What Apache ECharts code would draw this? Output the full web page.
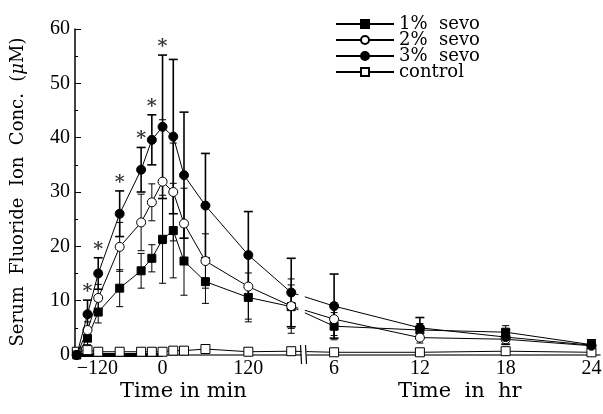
<!DOCTYPE html>
<html>
<head>
<meta charset="utf-8">
<script src="https://cdn.jsdelivr.net/npm/echarts@6/dist/echarts.min.js"></script>
<style>
html, body { margin: 0; padding: 0; background: #fff; }
#chart { width: 603px; height: 414px; }
</style>
</head>
<body>
<div id="chart"></div>
<script>
// sampling times: minutes around anesthesia, then hours afterwards
const minutes = [-120, -105, -90, -60, -30, -15, 0, 15, 30, 60, 120, 180]
const hours = [6, 12, 18, 24]

// mean and SD, serum fluoride (uM)
const sevo1 = [0, 3.1, 7.9, 12.3, 15.5, 17.8, 21.3, 22.9, 17.3, 13.5, 10.6, 8.9, 5.3, 4.6, 4.2, 1.9]
const sevo1Sd = [0, 1.2, 2.0, 3.4, 3.2, 2.5, 8.1, 8.7, 6.3, 4.0, 4.5, 4.0, 2.5, 1.2, 1.2, 0.6]
const sevo2 = [0, 4.6, 10.5, 19.9, 24.4, 28.1, 31.9, 30.0, 24.2, 17.3, 12.6, 9.0, 6.6, 3.2, 2.9, 1.7]
const sevo2Sd = [0, 1.5, 2.5, 4.5, 5.2, 3.4, 11.4, 9.0, 6.5, 5.0, 6.0, 5.0, 3.0, 1.0, 1.0, 0.5]
const sevo3 = [0, 7.5, 15.0, 26.0, 34.1, 39.6, 42.0, 40.2, 33.1, 27.5, 18.4, 11.5, 9.0, 5.0, 3.3, 1.8]
const sevo3Sd = [0, 2.6, 2.9, 4.2, 4.1, 4.6, 13.2, 14.2, 11.6, 9.6, 8.0, 6.3, 5.9, 1.9, 1.3, 1.0]
const control = [0.6, 0.9, 0.6, 0.6, 0.6, 0.6, 0.6, 0.8, 0.8, 1.1, 0.6, 0.7, 0.5, 0.5, 0.7, 0.5]

// significant points (marked with *) on 3% sevo
const starTimes = [-105, -90, -60, -30, -15, 0]
// anesthesia period
const anesthesia = [-120, 0]

// axis ticks (broken axis: 3 hr == 180 min, hour part drawn at 1/3 scale)
const tickValues = [-120, 0, 120, 240, 360, 480, 600]
const tickLabels = ['\u2212120', '0', '120', '6', '12', '18', '24']

const hourToAxis = h => 120 + h * 20
const axisTimes = minutes.concat(hours.map(hourToAxis))

const serif = 'Liberation Serif'
const wide = 'DejaVu Serif'

function lineData(values) {
  return axisTimes.map((t, i) => [t, values[i]])
}

function errorSeries(name, mean, sd, width, capW) {
  return {
    name: name,
    type: 'custom',
    z: 1,
    encode: { x: 0, y: 1 },
    data: axisTimes.map((t, i) => [t, mean[i], sd[i]]).filter(d => d[2] > 0),
    renderItem(params, api) {
      const x = api.value(0)
      const m = api.value(1)
      const s = api.value(2)
      const top = api.coord([x, m + s])
      const bot = api.coord([x, m - s])
      const style = { stroke: '#000', lineWidth: width }
      return {
        type: 'group',
        children: [
          { type: 'line', shape: { x1: top[0], y1: top[1], x2: bot[0], y2: bot[1] }, style },
          { type: 'line', shape: { x1: top[0] - capW, y1: top[1], x2: top[0] + capW, y2: top[1] }, style },
          { type: 'line', shape: { x1: bot[0] - capW, y1: bot[1], x2: bot[0] + capW, y2: bot[1] }, style }
        ]
      }
    }
  }
}

const openStyle = { color: '#fff', borderColor: '#000', borderWidth: 1 }
const fillStyle = { color: '#000', borderColor: '#000', borderWidth: 1 }

const chart = echarts.init(document.getElementById('chart'))
chart.setOption({
  animation: false,
  textStyle: { fontFamily: serif },
  grid: { left: 75, right: 3, top: 29, bottom: 59, outerBoundsMode: 'none' },
  legend: {
    data: ['1% sevo', '2% sevo', '3% sevo', 'control'],
    formatter: name => name.replace(' ', '  '),
    orient: 'vertical',
    left: 330,
    top: 10,
    itemWidth: 58,
    itemHeight: 10,
    itemGap: -2,
    textStyle: { fontFamily: wide, fontSize: 18, lineHeight: 16, color: '#000' }
  },
  xAxis: {
    type: 'value',
    min: -122.5,
    max: 612,
    splitLine: { show: false },
    axisTick: { show: false },
    axisLine: { onZero: false, lineStyle: { color: '#444', width: 1.5 } },
    axisLabel: {
      customValues: tickValues,
      alignMinLabel: 'left',
      formatter: v => tickLabels[tickValues.indexOf(v)],
      fontFamily: serif,
      fontSize: 20,
      color: '#000',
      margin: 4
    }
  },
  yAxis: {
    type: 'value',
    min: 0,
    max: 60,
    interval: 10,
    splitLine: { show: false },
    axisLine: { show: true, onZero: false, lineStyle: { color: '#000', width: 1.5 } },
    axisTick: { inside: true, length: 6, lineStyle: { color: '#000' } },
    minorTick: { show: true, splitNumber: 2, length: 3, lineStyle: { color: '#000' } },
    axisLabel: { fontFamily: serif, fontSize: 20, color: '#000', margin: 5 },
    name: '{a|Serum  Fluoride  Ion  Conc.  (}{i|\u03bc}{a|M)}',
    nameLocation: 'middle',
    nameGap: 48,
    nameTextStyle: {
      rich: {
        a: { fontFamily: wide, fontSize: 18, color: '#000' },
        i: { fontFamily: wide, fontSize: 18, fontStyle: 'italic', color: '#000' }
      }
    }
  },
  series: [
    errorSeries('sd1', sevo1, sevo1Sd, 1, 3.5),
    errorSeries('sd2', sevo2, sevo2Sd, 1, 3.5),
    errorSeries('sd3', sevo3, sevo3Sd, 1.6, 4.5),
    {
      name: 'anesthesia',
      type: 'line',
      z: 2,
      symbol: 'none',
      data: anesthesia.map(t => [t, 0]),
      lineStyle: { color: '#000', width: 4 }
    },
    {
      name: 'control',
      type: 'line',
      z: 3,
      symbol: 'rect',
      symbolSize: 9,
      data: lineData(control),
      lineStyle: { color: '#000', width: 1 },
      itemStyle: openStyle
    },
    {
      name: '1% sevo',
      type: 'line',
      z: 4,
      symbol: 'rect',
      symbolSize: 8,
      data: lineData(sevo1),
      lineStyle: { color: '#000', width: 1 },
      itemStyle: fillStyle
    },
    {
      name: '2% sevo',
      type: 'line',
      z: 4,
      symbol: 'circle',
      symbolSize: 9,
      data: lineData(sevo2),
      lineStyle: { color: '#000', width: 1 },
      itemStyle: openStyle
    },
    {
      name: '3% sevo',
      type: 'line',
      z: 5,
      symbol: 'circle',
      symbolSize: 9,
      data: lineData(sevo3),
      lineStyle: { color: '#000', width: 1 },
      itemStyle: fillStyle
    },
    {
      name: 'stars',
      type: 'scatter',
      z: 6,
      symbolSize: 1,
      itemStyle: { color: 'transparent' },
      data: starTimes.map(t => {
        const i = axisTimes.indexOf(t)
        return [t, sevo3[i] + sevo3Sd[i]]
      }),
      label: {
        show: true,
        position: 'top',
        distance: -2,
        formatter: '*',
        fontFamily: wide,
        fontWeight: 'bold',
        fontSize: 19,
        color: '#000'
      }
    }
  ]
})

// axis break: gap in the lines and "||" mark on the baseline
const gapL = chart.convertToPixel({ gridIndex: 0 }, [190, 0])
const gapR = chart.convertToPixel({ gridIndex: 0 }, [199, 14])
const brk = chart.convertToPixel({ gridIndex: 0 }, [200, 0])
chart.setOption({
  graphic: [
    { type: 'rect', z: 100, shape: { x: gapL[0], y: gapR[1], width: gapR[0] - gapL[0], height: gapL[1] - gapR[1] - 6 }, style: { fill: '#fff' } },
    { type: 'rect', z: 100, shape: { x: brk[0] - 4, y: brk[1] - 10, width: 5, height: 20 }, style: { fill: '#fff' } },
    { type: 'line', z: 101, shape: { x1: brk[0] - 5, y1: brk[1] - 10, x2: brk[0] - 4, y2: brk[1] + 9 }, style: { stroke: '#000', lineWidth: 1.2 } },
    { type: 'line', z: 101, shape: { x1: brk[0], y1: brk[1] - 10, x2: brk[0] + 1, y2: brk[1] + 9 }, style: { stroke: '#000', lineWidth: 1.2 } },
    { type: 'text', z: 101, left: 120, top: 381, style: { text: 'Time in min', font: '21px "DejaVu Serif"', fill: '#000' } },
    { type: 'text', z: 101, left: 398, top: 381, style: { text: 'Time  in  hr', font: '21px "DejaVu Serif"', fill: '#000' } }
  ]
})
</script>
</body>
</html>
